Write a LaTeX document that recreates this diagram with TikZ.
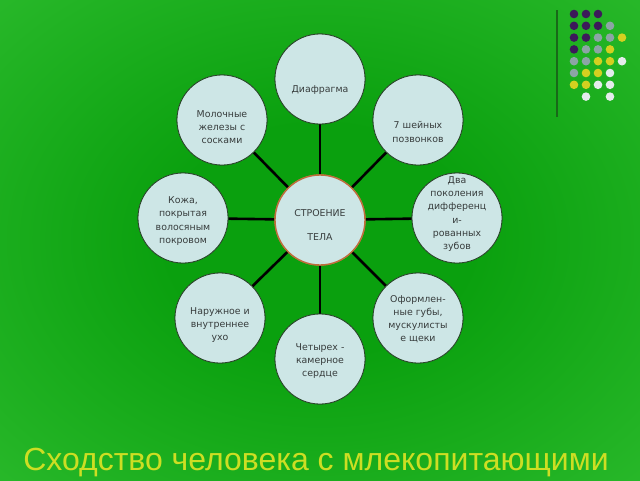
\documentclass[tikz,border=0pt]{standalone}
\usepackage{fontspec}
\newfontfamily\verd{DejaVu Sans}
\newfontfamily\arialf{Liberation Sans}
\usetikzlibrary{calc}
\definecolor{bgin}{RGB}{10,160,14}
\definecolor{bgout}{RGB}{58,198,58}
\definecolor{bubfill}{RGB}{205,230,230}
\definecolor{bubline}{RGB}{40,70,40}
\definecolor{copper}{RGB}{190,110,60}
\definecolor{txtc}{RGB}{55,60,60}
\definecolor{titlec}{RGB}{205,222,35}
\definecolor{dpur}{RGB}{60,26,90}
\definecolor{dgray}{RGB}{140,165,165}
\definecolor{dyel}{RGB}{212,208,32}
\definecolor{dwht}{RGB}{228,236,236}
\definecolor{vline}{RGB}{25,105,25}
\pgfdeclareradialshading{bgshade}{\pgfpoint{0bp}{0bp}}{color(0bp)=(bgin); color(12bp)=(bgin); color(50bp)=(bgout); color(60bp)=(bgout)}
\begin{document}
\begin{tikzpicture}[x=1pt,y=-1pt,
  bub/.style={circle,draw=bubline,line width=0.8pt,fill=bubfill,minimum size=90pt,inner sep=0pt},
  hub/.style={bub,draw=copper,line width=1.4pt},
  txt/.style={font=\verd\fontsize{9.4}{13.2}\selectfont,text=txtc,align=center,inner sep=0pt},
  conn/.style={line width=2.6pt,black},
  dot/.style={circle,inner sep=0pt,minimum size=8.6pt}]
\shade[shading=bgshade] (0,0) rectangle (640,480);
\useasboundingbox (0,0) rectangle (640,480);
% hub and satellites
\node[hub] (c) at (320,220) {};
\node[bub] (n1) at (320,79) {};
\node[bub] (n2) at (418,120) {};
\node[bub] (n3) at (457,218) {};
\node[bub] (n4) at (418,318) {};
\node[bub] (n5) at (320,359) {};
\node[bub] (n6) at (220,318) {};
\node[bub] (n7) at (183,218) {};
\node[bub] (n8) at (222,120) {};
\foreach \n in {n1,n2,n3,n4,n5,n6,n7,n8}{\draw[conn] (c) -- (\n);}
% redraw circles over connectors
\node[hub] at (c) {};
\foreach \n in {n1,n2,n3,n4,n5,n6,n7,n8}{\node[bub] at (\n) {};}
% texts
\node[txt] (tc) at ($(c)+(0,5)$) {СТРОЕНИЕ\\[11pt]ТЕЛА};
\node[txt] (t1) at ($(n1)+(0,11)$) {Диафрагма};
\node[txt] (t2) at ($(n2)+(0,12)$) {7 шейных\\позвонков};
\node[txt] (t3) at ($(n3)+(0,-4)$) {\fontsize{9.4}{12}\selectfont Два\\поколения\\дифференц\\и-\\рованных\\зубов};
\node[txt] (t4) at ($(n4)+(0,1)$) {Оформлен-\\ные губы,\\мускулисты\\е щеки};
\node[txt] (t5) at ($(n5)+(0,2)$) {Четырех -\\камерное\\сердце};
\node[txt] (t6) at ($(n6)+(0,7)$) {Наружное и\\внутреннее\\ухо};
\node[txt] (t7) at ($(n7)+(0,3)$) {Кожа,\\покрытая\\волосяным\\покровом};
\node[txt] (t8) at ($(n8)+(0,7)$) {Молочные\\железы с\\сосками};
% title
\node[font=\arialf\fontsize{32}{36}\selectfont,text=titlec,anchor=base,inner sep=0pt] (title) at (316,470) {Сходство человека с млекопитающими};
% decoration
\coordinate (va) at (557,10);
\coordinate (vb) at (557,117);
\draw[vline,line width=1.8pt] (va) -- (vb);
\foreach \c/\r/\col in {0/0/dpur,1/0/dpur,2/0/dpur,
  0/1/dpur,1/1/dpur,2/1/dpur,3/1/dgray,
  0/2/dpur,1/2/dpur,2/2/dgray,3/2/dgray,4/2/dyel,
  0/3/dpur,1/3/dgray,2/3/dgray,3/3/dyel,
  0/4/dgray,1/4/dgray,2/4/dyel,3/4/dyel,4/4/dwht,
  0/5/dgray,1/5/dyel,2/5/dyel,3/5/dwht,
  0/6/dyel,1/6/dyel,2/6/dwht,3/6/dwht,
  1/7/dwht,3/7/dwht}{
  \node[dot,fill=\col] (d\c\r) at ({574+12*\c},{14+11.8*\r}) {};
}
\end{tikzpicture}
\end{document}
